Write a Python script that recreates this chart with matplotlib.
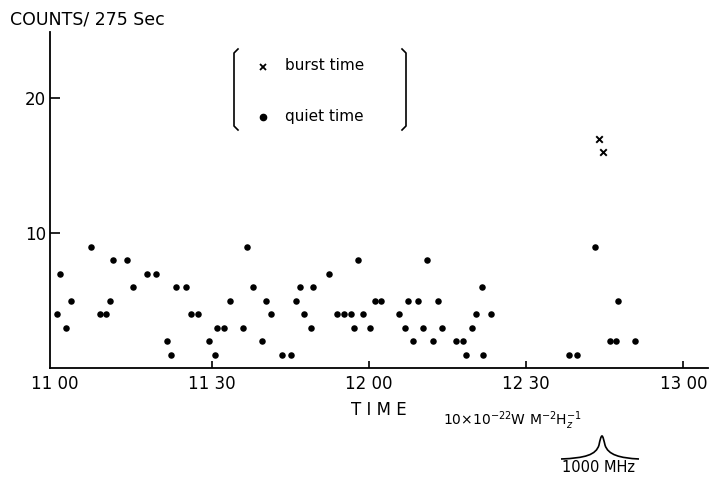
import matplotlib
matplotlib.use('Agg')
import matplotlib.pyplot as plt
from matplotlib.path import Path
from matplotlib.patches import PathPatch

# minutes after 11:00 and counts per 275 s
quiet_min = [0.4, 1.1, 2.25, 3.2, 7.0, 8.7, 9.8, 10.6, 11.1, 13.8, 15.0, 17.7, 19.4,
             21.5, 22.3, 23.1, 25.1, 26.0, 27.3, 29.5, 30.6, 31.1, 32.4, 33.4, 36.0,
             36.7, 37.9, 39.6, 40.3, 41.4, 43.5, 45.2, 46.0, 46.9, 47.7, 48.9, 49.4,
             52.3, 54.0, 55.2, 56.5, 57.1, 57.9, 58.8, 60.2, 61.1, 62.3, 65.7, 66.8,
             67.5, 68.5, 69.3, 70.4, 71.1, 72.3, 73.2, 74.0, 76.7, 78.0, 78.6, 79.6,
             80.4, 81.5, 81.7, 83.2, 98.1, 99.7, 103.2, 106.0, 107.2, 107.6, 110.7]
quiet_cnt = [4, 7, 3, 5, 9, 4, 4, 5, 8, 8, 6, 7, 7,
             2, 1, 6, 6, 4, 4, 2, 1, 3, 3, 5, 3,
             9, 6, 2, 5, 4, 1, 1, 5, 6, 4, 3, 6,
             7, 4, 4, 4, 3, 8, 4, 3, 5, 5, 4, 3,
             5, 2, 5, 3, 8, 2, 5, 3, 2, 2, 1, 3,
             4, 6, 1, 4, 1, 1, 9, 2, 2, 5, 2]
burst_min = [103.9, 104.7]
burst_cnt = [17, 16]

tick_pos = [0, 30, 60, 90, 120]
tick_lab = ["11 00", "11 30", "12 00", "12 30", "13 00"]

fig = plt.figure(figsize=(7.12, 4.8), dpi=100)
ax = fig.add_axes([50 / 712, 112 / 480, 658 / 712, 336 / 480])

ax.scatter(quiet_min, quiet_cnt, s=22, color='black', zorder=3, linewidths=0)
ax.scatter(burst_min, burst_cnt, s=22, marker='x', color='black', linewidths=1.4, zorder=3)

ax.set_xlim(-0.86, 124.7)
ax.set_ylim(0, 24.9)
for side in ['top', 'right']:
    ax.spines[side].set_visible(False)
for side in ['left', 'bottom']:
    ax.spines[side].set_linewidth(1.3)

ax.set_xticks(tick_pos)
ax.set_xticklabels(tick_lab, fontsize=12)
ax.set_yticks([10, 20])
ax.set_yticklabels(["10", "20"], fontsize=12)
ax.tick_params(direction='in', length=5, width=1.2, pad=5)
ax.tick_params(axis='y', length=7, pad=3)
ax.xaxis.get_major_ticks()[0].tick1line.set_visible(False)

ax.set_xlabel("T I M E", fontsize=12, labelpad=6)

# overlay in pixel coordinates for annotations
ov = fig.add_axes([0, 0, 1, 1], facecolor='none')
ov.set_xlim(0, 712)
ov.set_ylim(480, 0)
ov.axis('off')

ov.text(10, 20, "COUNTS/ 275 Sec", fontsize=12.5, va='center', ha='left')

# legend brackets
ov.plot([238, 234, 234, 238], [49, 53, 126, 130], color='black', lw=1.2)
ov.plot([402, 406, 406, 402], [49, 53, 126, 130], color='black', lw=1.2)
ov.plot([263], [67], marker='x', color='black', ms=5, mew=1.3)
ov.plot([263], [117], marker='o', color='black', ms=4.5)
ov.text(285, 66, "burst time", fontsize=11, va='center', ha='left')
ov.text(285, 116, "quiet time", fontsize=11, va='center', ha='left')

# flux scale note
ov.text(443, 421, r"10×10$^{-22}$W M$^{-2}$H$_z^{-1}$", fontsize=10, va='center', ha='left')
verts = [(561, 459), (585, 458), (596, 455), (599, 445),
         (600, 440), (601, 436), (602, 436),
         (603, 436), (604, 441), (605, 445),
         (608, 455), (620, 458), (639, 459)]
codes = [Path.MOVETO] + [Path.CURVE4] * 12
ov.add_patch(PathPatch(Path(verts, codes), facecolor='none', edgecolor='black', lw=1.2))
ov.text(598, 467, "1000 MHz", fontsize=10.5, va='center', ha='center')

fig.savefig("out.png", dpi=100)
